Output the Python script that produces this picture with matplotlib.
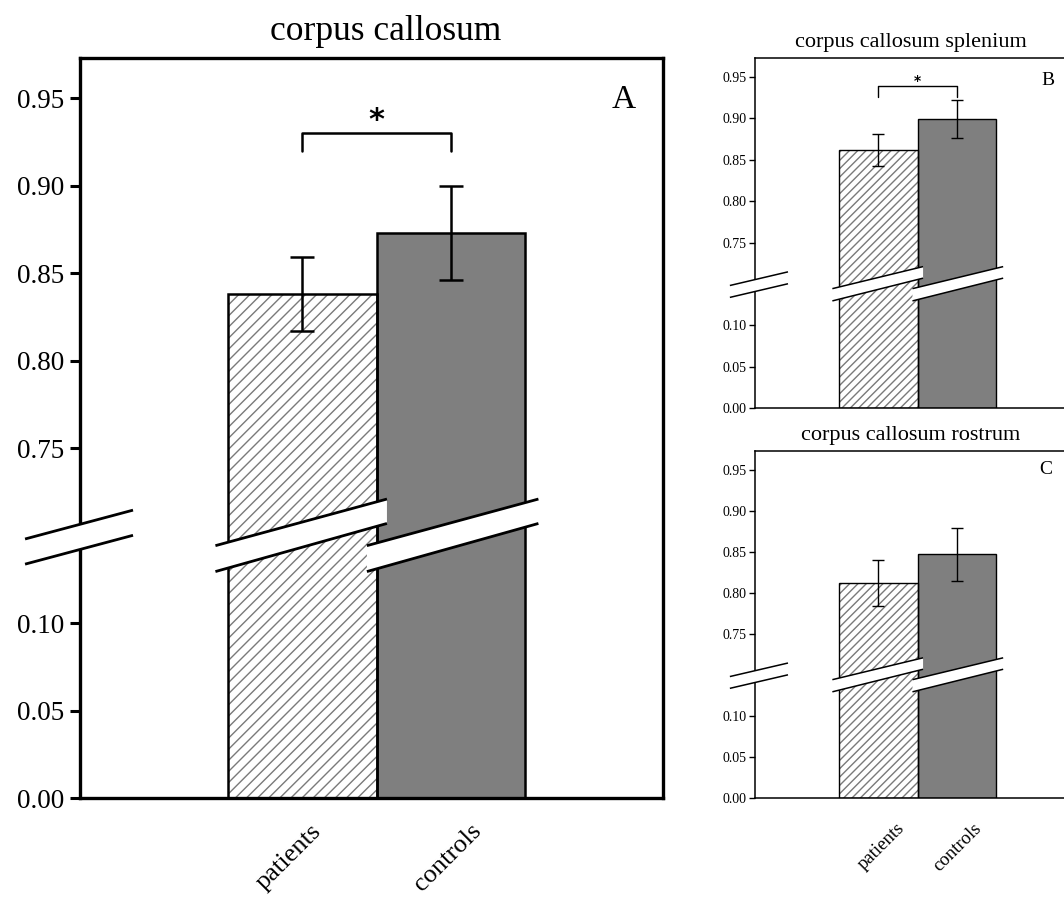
import numpy as np
import matplotlib
matplotlib.use("Agg")
import matplotlib.pyplot as plt
import matplotlib.transforms as mtransforms
from matplotlib.patches import Polygon
from matplotlib.ticker import NullLocator

# ---------------- data ----------------
groups = ["patients", "controls"]
titles = ["corpus callosum", "corpus callosum splenium", "corpus callosum rostrum"]
panel_letters = ["A", "B", "C"]

means_A = [0.838, 0.873]
err_A = [0.021, 0.027]
means_B = [0.862, 0.899]
err_B = [0.0195, 0.023]
means_C = [0.812, 0.847]
err_C = [0.0285, 0.032]

sig_A = True
sig_B = True
sig_C = False
bracket_A = [0.920, 0.930]   # leg bottom, bracket top
bracket_B = [0.926, 0.9395]

ytick_values = [0.00, 0.05, 0.10, 0.75, 0.80, 0.85, 0.90, 0.95]
ytick_labels = ["0.00", "0.05", "0.10", "0.75", "0.80", "0.85", "0.90", "0.95"]

# ---------------- broken axis scale ----------------
def fwd(v):
    v = np.asarray(v, dtype=float)
    return np.where(v <= 0.10, v,
                    np.where(v >= 0.75, v - 0.55, 0.10 + (v - 0.10) * (0.10 / 0.65)))

def inv(u):
    u = np.asarray(u, dtype=float)
    return np.where(u <= 0.10, u,
                    np.where(u >= 0.20, u + 0.55, 0.10 + (u - 0.10) * 6.5))

plt.rcParams['font.family'] = ['Liberation Serif', 'DejaVu Serif']
plt.rcParams['hatch.linewidth'] = 1.0

fig = plt.figure(figsize=(10.64, 9.05), dpi=100)
W, H = 1064, 905

def px_axes(l, t, r, b):
    return fig.add_axes([l / W, 1 - b / H, (r - l) / W, (b - t) / H])

axA = px_axes(80, 58, 663, 798)
axB = px_axes(755, 58, 1066, 408)
axC = px_axes(755, 451, 1066, 798)

configs = [
    dict(ax=axA, means=means_A, err=err_A, sig=sig_A, br=bracket_A, xlim=(-1.497, 2.429),
         big=True, letter_pos=(0.933, 0.943), show_x=True, hatch='///',
         lab_dx=(-0.09, -0.02), lab_y=-22 / 740, brk=(-0.37, 0.357), title_x=0.524),
    dict(ax=axB, means=means_B, err=err_B, sig=sig_B, br=bracket_B, xlim=(-1.57, 2.39),
         big=False, letter_pos=(0.942, 0.937), show_x=False, hatch='////',
         lab_dx=(0, 0), lab_y=0, brk=(-0.32, 0.42), title_x=0.5),
    dict(ax=axC, means=means_C, err=err_C, sig=sig_C, br=None, xlim=(-1.57, 2.39),
         big=False, letter_pos=(0.936, 0.948), show_x=True, hatch='////',
         lab_dx=(0.04, 0.01), lab_y=-22 / 347, brk=(-0.32, 0.42), title_x=0.5),
]

x = np.arange(len(groups))

for i, cfg in enumerate(configs):
    ax = cfg['ax']
    big = cfg['big']
    lw_frame = 2.4 if big else 1.1
    lw_bar = 1.8 if big else 1.0
    lw_err = 1.8 if big else 1.0
    cap = 8.5 if big else 4.5
    fs_tick = 19.5 if big else 10
    fs_title = 25.5 if big else 16
    fs_letter = 24 if big else 14
    fs_x = 19 if big else 13.5

    ax.set_yscale('function', functions=(fwd, inv))
    ax.set_ylim(0, 0.973)
    ax.set_xlim(*cfg['xlim'])

    # patients: hatched
    ax.bar(x[0], cfg['means'][0], width=1.0, color='white', edgecolor='#7a7a7a',
           hatch=cfg['hatch'], linewidth=0, zorder=2)
    # controls: grey
    ax.bar(x[1], cfg['means'][1], width=1.0, color='#7f7f7f', linewidth=0, zorder=2)
    ax.bar(x, cfg['means'], width=1.0, fill=False, edgecolor='black', linewidth=lw_bar, zorder=3)
    ax.errorbar(x, cfg['means'], yerr=cfg['err'], fmt='none', ecolor='black',
                elinewidth=lw_err, capsize=cap, capthick=lw_err, zorder=4)

    # break marks (x in data, y in axes fraction)
    trans = mtransforms.blended_transform_factory(ax.transData, ax.transAxes)
    lw_brk = 2.0 if big else 1.1
    for shift in [0.0, 1.02]:
        x0, x1 = -0.585 + shift, 0.57 + shift
        up0, up1 = 0.341, 0.404
        lo0, lo1 = 0.306, 0.371
        poly = Polygon([[x0, lo0], [x1, lo1], [x1, up1], [x0, up0]], closed=True,
                       facecolor='white', edgecolor='none', transform=trans,
                       clip_on=False, zorder=6)
        ax.add_patch(poly)
        ax.plot([x0, x1], [up0, up1], color='black', lw=lw_brk, transform=trans,
                clip_on=False, zorder=7, solid_capstyle='butt')
        ax.plot([x0, x1], [lo0, lo1], color='black', lw=lw_brk, transform=trans,
                clip_on=False, zorder=7, solid_capstyle='butt')
    # axis break
    bx0, bx1 = cfg['xlim'][0] + cfg['brk'][0], cfg['xlim'][0] + cfg['brk'][1]
    poly = Polygon([[bx0, 0.316], [bx1, 0.355], [bx1, 0.389], [bx0, 0.350]], closed=True,
                   facecolor='white', edgecolor='none', transform=trans,
                   clip_on=False, zorder=6)
    ax.add_patch(poly)
    ax.plot([bx0, bx1], [0.350, 0.389], color='black', lw=lw_brk, transform=trans,
            clip_on=False, zorder=7, solid_capstyle='butt')
    ax.plot([bx0, bx1], [0.316, 0.355], color='black', lw=lw_brk, transform=trans,
            clip_on=False, zorder=7, solid_capstyle='butt')

    # significance bracket
    if cfg['sig']:
        lo, hi = cfg['br']
        ax.plot([x[0], x[0], x[1], x[1]], [lo, hi, hi, lo], color='black',
                lw=lw_err, zorder=5, solid_joinstyle='round', solid_capstyle='round')
        ax.text(0.5, hi + (0.0075 if big else 0.0055), '*', ha='center', va='center',
                fontsize=(22 if big else 10), fontweight='bold', family='DejaVu Sans')

    ax.set_yticks(ytick_values)
    ax.set_yticklabels(ytick_labels)
    ax.yaxis.set_minor_locator(NullLocator())
    ax.tick_params(axis='y', direction='out', length=(7 if big else 4),
                   width=(2.2 if big else 1.0), labelsize=fs_tick, pad=(4 if big else 2))
    ax.set_xticks(x)
    ax.set_xticklabels([])
    ax.tick_params(axis='x', length=0)
    if cfg['show_x']:
        for xi, name, dx in zip(x, groups, cfg['lab_dx']):
            ax.text(xi + dx, cfg['lab_y'], name, rotation=45, ha='center', va='top',
                    fontsize=fs_x, transform=trans, clip_on=False)
    for s in ax.spines.values():
        s.set_linewidth(lw_frame)
        s.set_color('black')

    ax.set_title(titles[i], fontsize=fs_title, pad=(13 if big else 8), x=cfg['title_x'])
    ax.text(cfg['letter_pos'][0], cfg['letter_pos'][1], panel_letters[i],
            transform=ax.transAxes, ha='center', va='center', fontsize=fs_letter)

fig.savefig('out.png', dpi=100)
